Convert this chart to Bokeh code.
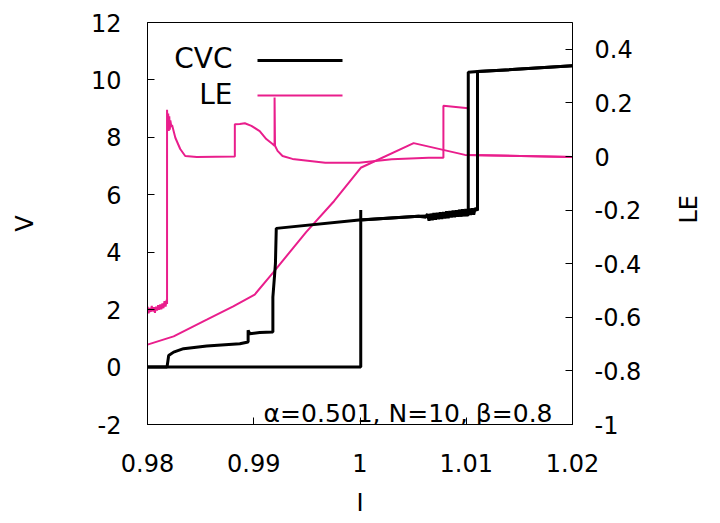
import math
from bokeh.plotting import figure
from bokeh.models import Range1d, LinearAxis, FixedTicker, PrintfTickFormatter, Label, BoxAnnotation
from bokeh.embed import file_html
from bokeh.resources import INLINE

# ---- data ----
X_TICKS = [0.98, 0.99, 1.0, 1.01, 1.02]
V_TICKS = [-2, 0, 2, 4, 6, 8, 10, 12]
LE_TICKS = [-1, -0.8, -0.6, -0.4, -0.2, 0, 0.2, 0.4]

# CVC, increasing current
CVC_UP_I = [0.98, 0.98184, 0.98199, 0.98246, 0.98339, 0.98558, 0.98869, 0.98947,
            0.98947, 0.98963, 0.99056, 0.99180, 0.99180, 0.99196, 0.99204, 0.99212,
            0.99991, 1.0055, 1.0062,
            1.00635, 1.0065, 1.00665, 1.0068, 1.00695, 1.0071, 1.00725, 1.0074,
            1.00755, 1.0077, 1.00785, 1.0080, 1.00815, 1.0083, 1.00845, 1.0086,
            1.00875, 1.0089, 1.00905, 1.0092, 1.00935, 1.0095, 1.00965, 1.0098,
            1.00995, 1.0101, 1.01025, 1.0104, 1.01055, 1.0107, 1.01085, 1.01106,
            1.01106, 1.02]
CVC_UP_V = [0.0, 0.0, 0.40, 0.52, 0.64, 0.73, 0.81, 0.87,
            1.28, 1.16, 1.20, 1.22, 2.44, 3.20, 3.60, 4.83,
            5.12, 5.25, 5.22,
            5.33, 5.10, 5.34, 5.12, 5.36, 5.13, 5.37, 5.15,
            5.39, 5.16, 5.40, 5.18, 5.42, 5.19, 5.43, 5.21,
            5.45, 5.22, 5.46, 5.24, 5.48, 5.25, 5.49, 5.27,
            5.50, 5.28, 5.52, 5.30, 5.53, 5.31, 5.54, 5.45,
            10.29, 10.49]

# CVC, decreasing current
CVC_DOWN_I = [1.02, 1.01106, 1.01019, 1.01019, 1.0055, 1.00007, 1.00007, 1.00007, 0.98]
CVC_DOWN_V = [10.49, 10.29, 10.27, 5.30, 5.25, 5.12, 5.47, 0.0, 0.0]

# Lyapunov exponent, increasing current (noisy branch)
LE_UP_I = [0.9800, 0.9801, 0.9802, 0.9803, 0.9804, 0.9805, 0.9806, 0.9807, 0.9808,
           0.9809, 0.9810, 0.9811, 0.9812, 0.9813, 0.9814, 0.9815, 0.9816, 0.9817,
           0.9818, 0.98184, 0.98184, 0.98190, 0.98195, 0.98200, 0.98205, 0.98210,
           0.98215, 0.98225, 0.98231, 0.98262, 0.98308, 0.98355, 0.98464, 0.98822,
           0.98822, 0.98869, 0.98916, 0.98978, 0.99056, 0.99118, 0.99180, 0.99196,
           0.99196, 0.99200, 0.99224, 0.99271, 0.99364, 0.99673, 0.99991, 1.00299,
           1.00645, 1.00785, 1.00785, 1.01019, 1.01019, 1.02]
LE_UP = [-0.560, -0.585, -0.565, -0.580, -0.558, -0.578, -0.562, -0.583, -0.560,
         -0.575, -0.555, -0.572, -0.552, -0.570, -0.548, -0.566, -0.540, -0.560,
         -0.535, -0.550, 0.174, 0.105, 0.160, 0.095, 0.150, 0.100,
         0.135, 0.110, 0.118, 0.070, 0.028, 0.002, -0.002, 0.000,
         0.120, 0.121, 0.124, 0.114, 0.095, 0.065, 0.046, 0.040,
         0.220, 0.040, 0.021, 0.002, -0.009, -0.023, -0.023, -0.0105,
         -0.005, -0.005, 0.189, 0.180, 0.006, -0.002]

# Lyapunov exponent, decreasing current (smooth branch)
LE_DOWN_I = [1.02, 1.00988, 1.00505, 1.00007, 0.99757, 0.99493, 0.99180, 0.99009,
             0.98807, 0.98558, 0.98246, 0.98]
LE_DOWN = [-0.002, 0.006, 0.050, -0.042, -0.166, -0.282, -0.434, -0.515,
           -0.559, -0.609, -0.671, -0.702]

SERIES_NAMES = ["CVC", "LE"]
ANNOTATION = "\u03b1=0.501, N=10, \u03b2=0.8"

# ---- styling ----
FONT = "DejaVu Sans"
MAGENTA = "#e91e8c"
TICK_SIZE = "24px"

p = figure(width=720, height=523, output_backend="svg", toolbar_location=None,
           x_range=Range1d(0.98, 1.02), y_range=Range1d(-2, 12),
           min_border_left=147, min_border_right=145, min_border_top=22,
           min_border_bottom=99, x_axis_label="I", y_axis_label="V")
p.extra_y_ranges = {"le": Range1d(-1, 0.5)}
p.grid.visible = False
p.outline_line_color = "black"
p.outline_line_width = 1
p.background_fill_color = "white"
p.border_fill_color = "white"

fmt = PrintfTickFormatter(format="%g")


def style(ax, ticks):
    ax.ticker = FixedTicker(ticks=ticks)
    ax.formatter = fmt
    ax.major_tick_in = 7
    ax.major_tick_out = 0
    ax.minor_tick_in = 0
    ax.minor_tick_out = 0
    ax.axis_line_color = "black"
    ax.major_tick_line_color = "black"
    ax.major_label_text_font = FONT
    ax.major_label_text_color = "black"
    ax.major_label_text_font_size = TICK_SIZE
    ax.axis_label_text_font = FONT
    ax.axis_label_text_font_style = "normal"
    ax.axis_label_text_color = "black"
    ax.axis_label_text_font_size = "24px"


xa = p.xaxis[0]
style(xa, X_TICKS)
xa.major_label_standoff = 29
xa.axis_label_standoff = 14

ya = p.yaxis[0]
style(ya, V_TICKS)
ya.major_label_standoff = 26
ya.axis_label_standoff = 49

le_axis = LinearAxis(y_range_name="le", axis_label="LE")
style(le_axis, LE_TICKS)
le_axis.major_label_standoff = 22
le_axis.axis_label_standoff = 45
try:
    le_axis.axis_label_orientation = math.pi / 2
except Exception:
    pass
p.add_layout(le_axis, "right")

# ---- curves ----
p.line(LE_DOWN_I, LE_DOWN, y_range_name="le", line_color=MAGENTA, line_width=2)
p.line(LE_UP_I, LE_UP, y_range_name="le", line_color=MAGENTA, line_width=2)
p.line(CVC_DOWN_I, CVC_DOWN_V, line_color="black", line_width=3)
p.line(CVC_UP_I, CVC_UP_V, line_color="black", line_width=3)

# ---- legend (text left, sample right, as in the original) ----
p.add_layout(Label(x=85, y=366, x_units="screen", y_units="screen", text=SERIES_NAMES[0],
                   text_align="right", text_baseline="middle", text_font=FONT,
                   text_font_size="28px", text_color="black"))
p.add_layout(BoxAnnotation(left=110, right=195, bottom=362.5, top=365.5,
                           left_units="screen", right_units="screen",
                           bottom_units="screen", top_units="screen",
                           fill_color="black", fill_alpha=1, line_alpha=0))
p.add_layout(Label(x=85, y=330, x_units="screen", y_units="screen", text=SERIES_NAMES[1],
                   text_align="right", text_baseline="middle", text_font=FONT,
                   text_font_size="28px", text_color="black"))
p.add_layout(BoxAnnotation(left=110, right=195, bottom=328, top=330,
                           left_units="screen", right_units="screen",
                           bottom_units="screen", top_units="screen",
                           fill_color=MAGENTA, fill_alpha=1, line_alpha=0))

p.add_layout(Label(x=405, y=11, x_units="screen", y_units="screen", text=ANNOTATION,
                   text_align="right", text_baseline="alphabetic", text_font=FONT,
                   text_font_size="25px", text_color="black"))

open("out.html", "w").write(file_html(p, INLINE))
